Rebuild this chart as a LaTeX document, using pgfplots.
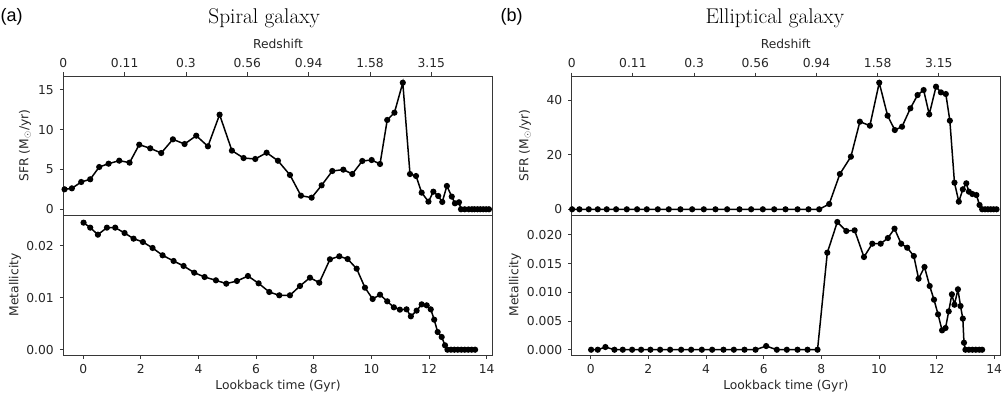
\documentclass[border=0pt]{standalone}
\usepackage{pgfplots}
\pgfplotsset{compat=1.18}
\usepackage{fontspec}
\newfontfamily\dejavu{DejaVu Sans}
\newfontfamily\arial{Liberation Sans}
\definecolor{txt}{RGB}{38,38,38}
\definecolor{spine}{RGB}{55,55,55}
\newcommand{\tf}{\fontsize{12.3}{14}\dejavu}
\pgfplotsset{
  base/.style={scale only axis, anchor=south west,
    axis line style={spine, line width=0.9pt},
    tick style={spine, line width=0.9pt},
    major tick length=3.5pt, tick align=outside,
    ticklabel style={font=\tf, text=txt},
    yticklabel style={xshift=-2.5pt},
    scaled ticks=false, clip=false},
  ser/.style={black, line width=1.5pt, mark=*, mark size=2.3pt, mark options={solid, fill=black}},
}
\begin{document}
\begin{tikzpicture}[x=1pt,y=1pt]
\useasboundingbox (0,0) rectangle (1003,397);
% ---------------- left top: SFR spiral
\begin{axis}[base, at={(63.3pt,182pt)}, width=429.4pt, height=139pt,
  xmin=-0.69, xmax=14.21, ymin=-0.72, ymax=16.75,
  xtick pos=right, xticklabel pos=right, ytick pos=left,
  xtick={-0.69,1.4386,3.5671,5.6957,7.8243,9.9529,12.0814},
  xticklabels={0,0.11,0.3,0.56,0.94,1.58,3.15},
  xticklabel style={yshift=1pt},
  ytick={0,5,10,15}, yticklabels={0,5,10,15}]
\addplot[ser] coordinates {
(-0.647,2.51)(-0.392,2.63)(-0.068,3.43)(0.244,3.77)(0.556,5.31)(0.881,5.73)
(1.251,6.11)(1.609,5.86)(1.945,8.12)(2.327,7.66)(2.708,7.07)(3.113,8.79)
(3.519,8.20)(3.923,9.25)(4.328,7.91)(4.733,11.89)(5.161,7.37)(5.566,6.44)
(5.971,6.32)(6.365,7.11)(6.758,6.10)(7.175,4.31)(7.556,1.71)(7.927,1.46)
(8.274,3.01)(8.644,4.81)(9.026,4.98)(9.338,4.43)(9.685,6.07)(10.01,6.19)
(10.30,5.69)(10.55,11.22)(10.80,12.14)(11.09,15.91)(11.34,4.43)(11.55,4.18)
(11.745,2.09)(11.98,0.96)(12.15,2.21)(12.32,1.67)(12.46,0.92)(12.62,2.93)
(12.79,1.59)(12.90,0.75)(13.04,0.88)(13.11,0)(13.24,0)(13.38,0)(13.49,0)
(13.58,0)(13.68,0)(13.78,0)(13.88,0)(13.98,0)(14.08,0)};
\end{axis}
% ---------------- left bottom: metallicity spiral
\begin{axis}[base, at={(63.3pt,42pt)}, width=429.4pt, height=140pt,
  xmin=-0.69, xmax=14.21, ymin=-0.00102, ymax=0.0259,
  xtick pos=left, ytick pos=left,
  xtick={0,2,4,6,8,10,12,14}, xticklabels={0,2,4,6,8,10,12,14},
  xticklabel style={yshift=-2pt},
  ytick={0,0.01,0.02}, yticklabels={0.00,0.01,0.02}]
\addplot[ser] coordinates {
(0.013,0.02443)(0.244,0.02347)(0.510,0.02212)(0.823,0.02347)(1.112,0.02347)
(1.436,0.02244)(1.748,0.02135)(2.072,0.02071)(2.408,0.01956)(2.755,0.01815)
(3.137,0.01706)(3.484,0.01610)(3.854,0.01481)(4.213,0.01398)(4.606,0.01334)
(4.965,0.01270)(5.335,0.01321)(5.717,0.01417)(6.087,0.01276)(6.457,0.01110)
(6.804,0.01046)(7.175,0.01046)(7.522,0.01225)(7.869,0.01385)(8.193,0.01289)
(8.563,0.01738)(8.887,0.01796)(9.176,0.01744)(9.489,0.01558)(9.778,0.01193)
(10.044,0.00975)(10.30,0.01058)(10.55,0.00930)(10.78,0.00815)(10.99,0.00770)
(11.22,0.00776)(11.37,0.00642)(11.57,0.00751)(11.745,0.00872)(11.92,0.00853)
(12.06,0.00776)(12.18,0.00577)(12.30,0.00340)(12.44,0.00244)(12.555,0.00084)
(12.64,0)(12.76,0)(12.88,0)(13.00,0)(13.12,0)(13.24,0)(13.36,0)(13.48,0)(13.60,0)};
\end{axis}
% ---------------- right top: SFR elliptical
\begin{axis}[base, at={(571.7pt,182pt)}, width=428.3pt, height=139pt,
  xmin=-0.66, xmax=14.2, ymin=-2.09, ymax=48.8,
  xtick pos=right, xticklabel pos=right, ytick pos=left,
  xtick={-0.66,1.4629,3.5857,5.7086,7.8314,9.9543,12.0771},
  xticklabels={0,0.11,0.3,0.56,0.94,1.58,3.15},
  xticklabel style={yshift=1pt},
  ytick={0,20,40}, yticklabels={0,20,40}]
\addplot[ser] coordinates {
(-0.647,0)(-0.392,0)(-0.068,0)(0.244,0)(0.556,0)(0.881,0)(1.251,0)(1.609,0)
(1.945,0)(2.327,0)(2.708,0)(3.113,0)(3.519,0)(3.923,0)(4.328,0)(4.733,0)
(5.161,0)(5.566,0)(5.971,0)(6.365,0)(6.758,0)(7.175,0)(7.556,0)(7.927,0)
(8.274,1.94)(8.644,12.92)(9.026,19.26)(9.338,32.07)(9.685,30.61)(10.01,46.34)
(10.30,34.27)(10.55,29.02)(10.80,30.24)(11.09,36.95)(11.34,41.83)(11.55,43.66)
(11.745,34.76)(11.98,44.88)(12.15,42.81)(12.32,42.20)(12.46,32.44)(12.62,9.75)
(12.77,2.79)(12.91,7.31)(13.03,9.51)(13.12,6.45)(13.24,5.60)(13.38,5.23)
(13.49,1.57)(13.58,0)(13.68,0)(13.78,0)(13.88,0)(13.98,0)(14.08,0)};
\end{axis}
% ---------------- right bottom: metallicity elliptical
\begin{axis}[base, at={(571.7pt,42pt)}, width=428.3pt, height=140pt,
  xmin=-0.66, xmax=14.2, ymin=-0.00092, ymax=0.02347,
  xtick pos=left, ytick pos=left,
  xtick={0,2,4,6,8,10,12,14}, xticklabels={0,2,4,6,8,10,12,14},
  xticklabel style={yshift=-2pt},
  ytick={0,0.005,0.01,0.015,0.02}, yticklabels={0.000,0.005,0.010,0.015,0.020}]
\addplot[ser] coordinates {
(0.013,0)(0.244,0)(0.510,0.00047)(0.823,0)(1.112,0)(1.436,0)(1.748,0)(2.072,0)
(2.408,0)(2.755,0)(3.137,0)(3.484,0)(3.854,0)(4.213,0)(4.606,0)(4.965,0)
(5.335,0)(5.717,0)(6.087,0.00064)(6.457,0)(6.804,0)(7.175,0)(7.522,0)(7.869,0)
(8.208,0.01690)(8.555,0.02225)(8.867,0.02068)(9.156,0.02080)(9.480,0.01615)
(9.769,0.01847)(10.06,0.01847)(10.31,0.01946)(10.54,0.02109)(10.77,0.01847)
(10.98,0.01777)(11.21,0.01632)(11.375,0.01237)(11.58,0.01441)(11.76,0.01110)
(11.91,0.00872)(12.05,0.00616)(12.19,0.00337)(12.31,0.00378)(12.42,0.00668)
(12.53,0.00965)(12.62,0.00784)(12.74,0.01052)(12.83,0.00761)(12.91,0.00541)
(12.95,0.00122)(13.00,0)(13.12,0)(13.24,0)(13.36,0)(13.48,0)(13.58,0)};
\end{axis}
% ---------------- texts
\node[font=\tf, text=txt] at (278,353) {Redshift};
\node[font=\tf, text=txt] at (785.8,353) {Redshift};
\node[font=\tf, text=txt] at (278,11) {Lookback time (Gyr)};
\node[font=\tf, text=txt] at (785.8,11) {Lookback time (Gyr)};
\node[font=\tf, text=txt, rotate=90] at (25,251.5) {SFR (M$_\odot$/yr)};
\node[font=\tf, text=txt, rotate=90] at (15,112) {Metallicity};
\node[font=\tf, text=txt, rotate=90] at (525,251.5) {SFR (M$_\odot$/yr)};
\node[font=\tf, text=txt, rotate=90] at (515,112) {Metallicity};
\node[font=\fontsize{21.3}{24}\selectfont, anchor=base] at (264.2,373) {Spiral galaxy};
\node[font=\fontsize{21.3}{24}\selectfont, anchor=base] at (774.8,373) {Elliptical galaxy};
\node[font=\fontsize{18}{20}\arial, anchor=base west, inner sep=0pt] at (0.5,375) {(a)};
\node[font=\fontsize{18}{20}\arial, anchor=base west, inner sep=0pt] at (500.5,375) {(b)};
\end{tikzpicture}
\end{document}
